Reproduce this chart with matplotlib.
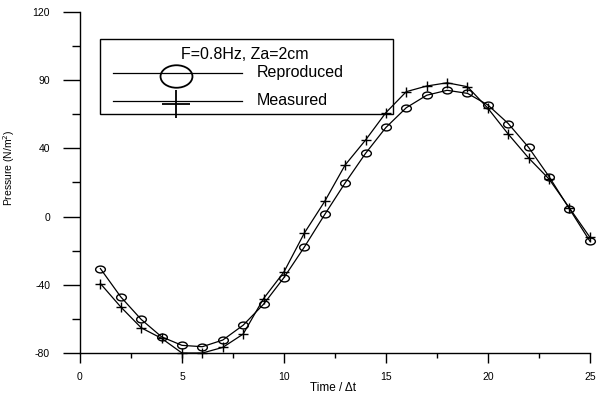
import matplotlib
matplotlib.use("Agg")
import matplotlib.pyplot as plt
from matplotlib.lines import Line2D
from matplotlib.patches import Rectangle
from matplotlib.path import Path
from matplotlib.transforms import Affine2D

plt.rcParams['font.family'] = ['Liberation Sans', 'DejaVu Sans']

# Time steps and pressure series
time_steps = list(range(1, 26))
reproduced = [-30.5, -47.1, -60.3, -70.5, -75.5, -76.3, -72.4, -63.7, -51.4, -35.8,
              -17.9, 1.2, 19.7, 37.0, 52.2, 63.8, 71.1, 74.0, 72.2, 65.4,
              54.5, 40.5, 23.4, 4.5, -14.4]
measured = [-39.3, -53.0, -65.2, -71.4, -80.0, -80.0, -76.7, -68.9, -48.1, -32.5,
            -9.7, 8.9, 30.2, 44.8, 60.9, 73.2, 76.5, 78.4, 76.1, 63.5,
            48.3, 34.3, 22.0, 5.0, -12.1]

y_ticks = [-80, -40, 0, 40, 80, 120]
y_tick_labels = ['-80', '-40', '0', '40', '90', '120']
x_ticks = [0, 5, 10, 15, 20, 25]

legend_title = 'F=0.8Hz, Za=2cm'
series_names = ['Reproduced', 'Measured']

# slightly flattened open circle marker
ellipse = Path.unit_circle().transformed(Affine2D().scale(1.42, 1.0))

fig = plt.figure(figsize=(5.97, 3.94), dpi=100)
ax = fig.add_axes([0.134, 0.104, 0.854, 0.866])

ax.plot(time_steps, reproduced, color='black', lw=0.9, marker=ellipse,
        markersize=7, markerfacecolor='none', markeredgecolor='black',
        markeredgewidth=1.0, clip_on=False)
ax.plot(time_steps, measured, color='black', lw=0.9, marker='+',
        markersize=6.5, markeredgewidth=1.0, clip_on=False)

ax.set_xlim(0, 25)
ax.set_ylim(-80, 120)
ax.set_xticks(x_ticks)
ax.set_xticks([2.5, 7.5, 12.5, 17.5, 22.5], minor=True)
ax.set_yticks(y_ticks)
ax.set_yticklabels(y_tick_labels)
ax.set_yticks([-60, -20, 20, 60, 100], minor=True)

for side in ['top', 'right']:
    ax.spines[side].set_visible(False)
for side in ['left', 'bottom']:
    ax.spines[side].set_linewidth(1.0)

ax.tick_params(axis='both', which='both', direction='out', width=1.0, labelsize=7.5)
ax.tick_params(axis='y', which='major', length=12, pad=9.5)
ax.tick_params(axis='y', which='minor', length=6)
ax.tick_params(axis='x', which='major', length=7.5, pad=6)
ax.tick_params(axis='x', which='minor', length=3.6)

ax.set_xlabel('Time / Δt', fontsize=8.5)
ax.xaxis.set_label_coords(0.496, -0.085)
ax.set_ylabel('Pressure (N/m$^2$)', fontsize=7.5)
ax.yaxis.set_label_coords(-0.124, 0.543)

# boxed key with title, long sample lines and enlarged markers
tr = ax.transAxes
ax.add_patch(Rectangle((0.039, 0.701), 0.575, 0.220, transform=tr,
                       facecolor='none', edgecolor='black', lw=1.0,
                       clip_on=False, zorder=5))
ax.text(0.324, 0.874, legend_title, transform=tr, ha='center', va='center',
        fontsize=11.5, zorder=6)
key_rows = [0.821, 0.739]
key_styles = [
    dict(marker=ellipse, markersize=23, markerfacecolor='none', markeredgewidth=1.3),
    dict(marker='+', markersize=20, markeredgewidth=1.3),
]
for name, y, style in zip(series_names, key_rows, key_styles):
    ax.add_line(Line2D([0.0647, 0.3176], [y, y], transform=tr, color='black',
                       lw=0.9, clip_on=False, zorder=6))
    ax.add_line(Line2D([0.189], [y - 0.008], transform=tr, color='black',
                       linestyle='none', clip_on=False, zorder=6, **style))
    ax.text(0.347, y, name, transform=tr, ha='left', va='center',
            fontsize=11.5, zorder=6)

fig.savefig('out.png', dpi=100)
